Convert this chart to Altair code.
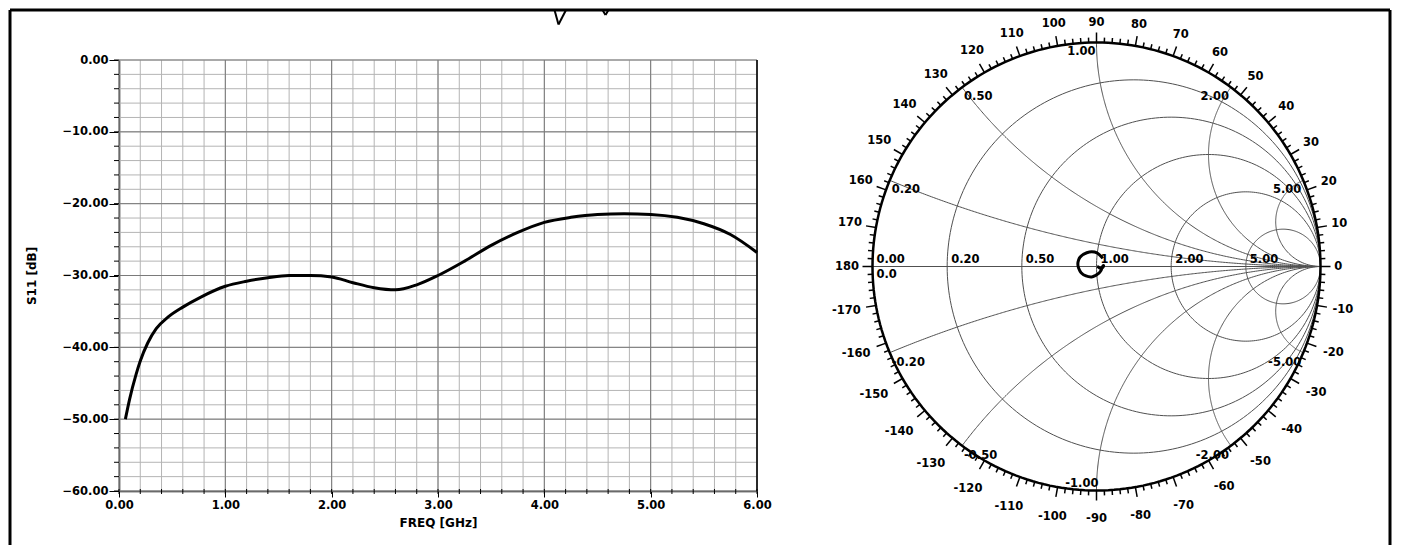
import numpy as np
import pandas as pd
import altair as alt

# ---------------- data ----------------
freq = [0.06, 0.10, 0.16, 0.20, 0.27, 0.35, 0.46, 0.60, 0.77, 1.00, 1.20, 1.40, 1.60,
        1.80, 2.00, 2.20, 2.40, 2.60, 2.80, 3.00, 3.25, 3.50, 3.75, 4.00, 4.25, 4.50,
        4.75, 5.00, 5.25, 5.50, 5.75, 6.00]
s11_db = [-50.0, -47.2, -43.8, -41.9, -39.4, -37.4, -35.8, -34.4, -33.0, -31.5, -30.8,
          -30.3, -30.0, -30.0, -30.2, -31.0, -31.7, -32.0, -31.3, -30.0, -28.0, -25.8,
          -24.0, -22.6, -21.9, -21.5, -21.4, -21.5, -21.9, -22.8, -24.3, -26.8]
s11_phase = [0, -5, -10, -15, -20, -25, -25, -22, -18, -12, -6, 0, 5, 8, 8, 2, -10, -25,
             -45, -70, -95, -115, -138, -158, -175, 172, 160, 150, 138, 116, 88, 52]

x_major = [0, 1, 2, 3, 4, 5, 6]
y_major = [0, -10, -20, -30, -40, -50, -60]
x_minor = [round(0.2 * i, 1) for i in range(31)]
y_minor = [-2 * i for i in range(31)]

smith_r = [0.2, 0.5, 1.0, 2.0, 5.0]
smith_x = [0.2, 0.5, 1.0, 2.0, 5.0]
angle_labels = list(range(0, 181, 10)) + list(range(-170, 0, 10))

FONT = "DejaVu Sans"
PW, PH = 638, 431
R = 224.0
CX, CY = 977.5, 206.5          # Smith centre in left-panel view pixels
SW = 2 * R                      # Smith panel width
Y_TOP = CY / R                  # top of Smith y-domain so that centres line up
SH = (Y_TOP + 1.0) * R          # Smith panel height

# ---------------- left: S11 in dB ----------------
xs = alt.Scale(domain=[0, 6], nice=False, zero=False)
ys = alt.Scale(domain=[-60, 0], nice=False, zero=False)
AX = alt.Axis(values=x_major, format=".2f", title="FREQ [GHz]", grid=False,
              tickSize=6, labelPadding=2, titlePadding=7, labelFlush=False)
AY = alt.Axis(values=y_major, format=".2f", title="S11 [dB]", grid=False,
              tickSize=10, labelPadding=1, titlePadding=23, labelFlush=False)

df_xminor = pd.DataFrame({"x": x_minor, "y0": -60, "y1": 0})
df_xmajor = pd.DataFrame({"x": x_major, "y0": -60, "y1": 0})
df_yminor = pd.DataFrame({"y": y_minor, "x0": 0, "x1": 6})
df_ymajor = pd.DataFrame({"y": y_major, "x0": 0, "x1": 6})
df_edge = pd.DataFrame({"x": [6], "y0": -60, "y1": 0})
df_curve = pd.DataFrame({"x": freq, "y": s11_db})


def vgrid(df, color, w=1.0):
    return alt.Chart(df).mark_rule(color=color, strokeWidth=w).encode(
        x=alt.X("x:Q", scale=xs, axis=AX),
        y=alt.Y("y0:Q", scale=ys, axis=AY), y2="y1:Q")


def hgrid(df, color):
    return alt.Chart(df).mark_rule(color=color, strokeWidth=1).encode(
        y=alt.Y("y:Q", scale=ys, axis=AY),
        x=alt.X("x0:Q", scale=xs, axis=AX), x2="x1:Q")


xticks_minor = alt.Chart(df_xminor).mark_rule(color="black", strokeWidth=1).encode(
    x=alt.X("x:Q", scale=xs, axis=AX), y=alt.value(PH - 2), y2=alt.value(PH + 3))
yticks_minor = alt.Chart(df_yminor).mark_rule(color="black", strokeWidth=1).encode(
    y=alt.Y("y:Q", scale=ys, axis=AY), x=alt.value(-5), x2=alt.value(0))

curve = alt.Chart(df_curve).mark_line(color="black", strokeWidth=3, interpolate="monotone").encode(
    x=alt.X("x:Q", scale=xs, axis=AX),
    y=alt.Y("y:Q", scale=ys, axis=AY),
)

# page frame and top marks (decoration, in panel pixels)
one = pd.DataFrame({"a": [0]})


def seg(x1, y1, x2, y2, w=3):
    return alt.Chart(one).mark_rule(color="black", strokeWidth=w).encode(
        x=alt.value(x1), y=alt.value(y1), x2=alt.value(x2), y2=alt.value(y2))


frame = [seg(-109, -50, -109, 485), seg(-109, -50, 1271, -50), seg(1271, -50, 1271, 485),
         seg(435.5, -50, 439.5, -35.5, 2), seg(439.5, -35.5, 447, -50, 2),
         seg(483.5, -50, 486.5, -45, 2), seg(486.5, -45, 489.5, -50, 2)]

left = alt.layer(vgrid(df_xminor, "#b4b4b4"), hgrid(df_yminor, "#b4b4b4"),
                 vgrid(df_xmajor, "#7a7a7a"), hgrid(df_ymajor, "#7a7a7a"),
                 vgrid(df_edge, "black", 1.5), xticks_minor, yticks_minor, curve,
                 *frame).properties(width=PW, height=PH)

# ---------------- right: Smith chart ----------------
sx = alt.Scale(domain=[-1, 1], nice=False, zero=False)
sy = alt.Scale(domain=[-1.0, Y_TOP], nice=False, zero=False)


def gamma(z):
    return (z - 1) / (z + 1)


rows = []
t = np.linspace(0, 2 * np.pi, 241)
for r in smith_r:
    c, rad = r / (1 + r), 1 / (1 + r)
    for i, tt in enumerate(t):
        rows.append({"grp": f"r{r}", "o": i, "gx": c + rad * np.cos(tt), "gy": rad * np.sin(tt)})
u = np.linspace(0, np.pi / 2 - 1e-3, 300)
for xv in smith_x + [-v for v in smith_x]:
    g = gamma(np.tan(u) + 1j * xv)
    for i, gg in enumerate(g):
        rows.append({"grp": f"x{xv}", "o": i, "gx": gg.real, "gy": gg.imag})
rows.append({"grp": "axis", "o": 0, "gx": -1.0, "gy": 0.0})
rows.append({"grp": "axis", "o": 1, "gx": 1.0, "gy": 0.0})
df_sgrid = pd.DataFrame(rows)

df_outer = pd.DataFrame({"o": range(len(t)), "gx": np.cos(t), "gy": np.sin(t)})

trows = []
for a in range(-178, 181, 2):
    L = 10.0 if a % 10 == 0 else 5.0
    ar = np.radians(a)
    trows.append({"gx": np.cos(ar), "gy": np.sin(ar),
                  "gx2": (1 + L / R) * np.cos(ar), "gy2": (1 + L / R) * np.sin(ar)})
df_ticks = pd.DataFrame(trows)

arows = []
for a in angle_labels:
    s = str(a)
    w = 7.66 * len(s.replace("-", "")) + (4.6 if "-" in s else 0)
    ar = np.radians(a)
    sn, cs = np.sin(ar), np.cos(ar)
    off = 14 + 0.5 * w * abs(cs) + (6 if sn >= 0 else 14) * abs(sn)
    rr = 1 + off / R
    arows.append({"gx": rr * cs, "gy": rr * sn, "t": s})
df_alab = pd.DataFrame(arows)

rlab = pd.DataFrame({"gx": [(r - 1) / (r + 1) for r in [0.0] + smith_r],
                     "gy": 0.0,
                     "t": [f"{r:.2f}" for r in [0.0] + smith_r]})
rlab0 = pd.DataFrame({"gx": [-1.0], "gy": [0.0], "t": ["0.0"]})


def xlab(vals):
    g = [gamma(1j * v) for v in vals]
    return pd.DataFrame({"gx": [q.real for q in g], "gy": [q.imag for q in g],
                         "t": [f"{v:.2f}" for v in vals]})


xl_left = xlab([0.2, 0.5, -0.2, -0.5])
xl_right = xlab([2.0, 5.0, -2.0, -5.0])
xl_top = xlab([1.0])
xl_bot = xlab([-1.0])

mag = [10 ** (d / 20.0) for d in s11_db]
df_trace = pd.DataFrame({"o": range(len(freq)),
                         "gx": [m * np.cos(np.radians(p)) for m, p in zip(mag, s11_phase)],
                         "gy": [m * np.sin(np.radians(p)) for m, p in zip(mag, s11_phase)]})

SX = alt.X("gx:Q", scale=sx, axis=None)
SY = alt.Y("gy:Q", scale=sy, axis=None)

sgrid = alt.Chart(df_sgrid).mark_line(color="#505050", strokeWidth=1).encode(
    x=SX, y=SY, detail="grp:N", order="o:Q")
souter = alt.Chart(df_outer).mark_line(color="black", strokeWidth=2.5).encode(
    x=SX, y=SY, order="o:Q")
sticks = alt.Chart(df_ticks).mark_rule(color="black", strokeWidth=1.5).encode(
    x=SX, y=SY, x2="gx2:Q", y2="gy2:Q")


def stext(df, align, baseline, dx, dy):
    return alt.Chart(df).mark_text(font=FONT, fontSize=11.5, fontWeight="bold", color="black",
                                   align=align, baseline=baseline, dx=dx, dy=dy).encode(
        x=SX, y=SY, text="t:N")


smith = alt.layer(
    sgrid, souter, sticks,
    stext(df_alab, "center", "middle", 0, 0),
    stext(rlab, "left", "bottom", 4, -2),
    stext(rlab0, "left", "top", 4, 2),
    stext(xl_left, "left", "top", 2, 4),
    stext(xl_right, "right", "top", -2, 4),
    stext(xl_top, "right", "top", -1, 3),
    stext(xl_bot, "right", "bottom", 2, -2),
    alt.Chart(df_trace).mark_line(color="black", strokeWidth=3, interpolate="cardinal").encode(
        x=SX, y=SY, order="o:Q"),
).properties(width=SW, height=SH)

chart = alt.hconcat(left, smith, spacing=CX - R - PW, bounds="flush").properties(
    padding=0, background="white"
).configure_view(stroke=None).configure_axis(
    labelFont=FONT, labelFontSize=11.5, labelFontWeight="bold", labelColor="black",
    titleFont=FONT, titleFontSize=12, titleFontWeight="bold", titleColor="black",
    domainColor="black", domainWidth=1.5, tickColor="black", tickWidth=1,
)

chart.save("out.html", embed_options={"renderer": "svg", "actions": False})
